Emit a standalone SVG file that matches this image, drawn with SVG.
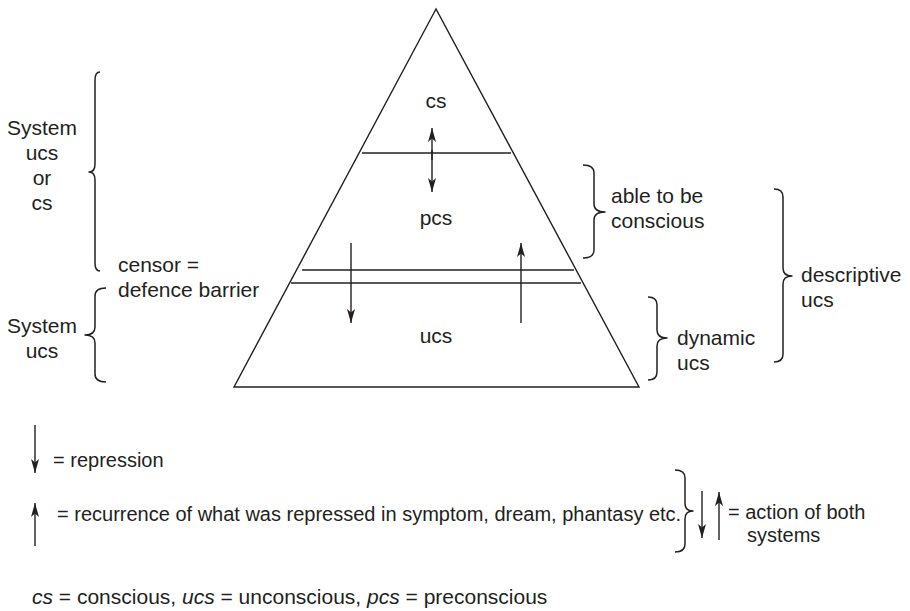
<svg xmlns="http://www.w3.org/2000/svg" width="910" height="611" viewBox="0 0 910 611">
  <defs>
    <style>
      .ln { stroke: #231f20; stroke-width: 1.4; fill: none; }
      .br { stroke: #231f20; stroke-width: 1.5; fill: none; stroke-linejoin: round; }
      .ar { stroke: #231f20; stroke-width: 1.4; fill: none; marker-end: url(#head); }
      .t { font-family: "Liberation Sans", Arial, Helvetica, sans-serif; font-size: 21px; fill: #231f20; }
      .s { font-size: 20px; }
      .c { text-anchor: middle; }
      .i { font-style: italic; }
    </style>
    <!-- slim filled arrowhead, tip at the line end -->
    <marker id="head" viewBox="-15 -5 16 10" refX="0" refY="0" markerWidth="16" markerHeight="10" markerUnits="userSpaceOnUse" orient="auto">
      <path d="M0,0 L-14,-4 L-10.5,0 L-14,4 Z" fill="#231f20"/>
    </marker>
  </defs>

  <rect width="910" height="611" fill="#ffffff"/>

  <!-- the pyramid with its strata -->
  <g id="pyramid">
    <polygon class="ln" points="436,9 234,387 639,387"/>
    <line class="ln" x1="362" y1="153" x2="511" y2="153"/>
    <line class="ln" x1="302" y1="270" x2="574" y2="270"/>
    <line class="ln" x1="291" y1="283" x2="581" y2="283"/>
  </g>

  <g id="cs"><text class="t c" x="436" y="108">cs</text></g>
  <g id="pcs"><text class="t c" x="436" y="225">pcs</text></g>
  <g id="ucs"><text class="t c" x="436" y="343">ucs</text></g>

  <!-- movements between the layers -->
  <g id="connectors">
    <line class="ar" x1="432" y1="160" x2="432" y2="128"/>
    <line class="ar" x1="432" y1="150" x2="432" y2="192"/>
    <line class="ar" x1="351" y1="243" x2="351" y2="323"/>
    <line class="ar" x1="521" y1="323" x2="521" y2="243"/>
  </g>

  <!-- left-hand brackets -->
  <g id="system-ucs-or-cs">
    <path class="br" d="M100 72 Q95 72 95 80 L95 164 Q95 172 89 172 Q95 172 95 180 L95 263 Q95 271 100 271"/>
    <text class="t c" x="42" y="135">System</text>
    <text class="t c" x="42" y="160">ucs</text>
    <text class="t c" x="42" y="185">or</text>
    <text class="t c" x="42" y="210">cs</text>
  </g>

  <g id="censor">
    <text class="t" x="118" y="272">censor =</text>
    <text class="t" x="118" y="297">defence barrier</text>
  </g>

  <g id="system-ucs">
    <path class="br" d="M106 288 Q95 288 95 296 L95 327 Q95 335 85 335 Q95 335 95 343 L95 374 Q95 382 106 382"/>
    <text class="t c" x="42" y="333">System</text>
    <text class="t c" x="42" y="358">ucs</text>
  </g>

  <!-- right-hand brackets -->
  <g id="able-to-be-conscious">
    <path class="br" d="M583 165 Q594 165 594 173 L594 204 Q594 212 605 212 Q594 212 594 220 L594 250 Q594 258 583 258"/>
    <text class="t" x="611" y="203">able to be</text>
    <text class="t" x="611" y="228">conscious</text>
  </g>

  <g id="descriptive-ucs">
    <path class="br" d="M774 189 Q783 189 783 197 L783 268 Q783 276 792 276 Q783 276 783 284 L783 354 Q783 362 774 362"/>
    <text class="t" x="801" y="282">descriptive</text>
    <text class="t" x="801" y="307">ucs</text>
  </g>

  <g id="dynamic-ucs">
    <path class="br" d="M648 297 Q657 297 657 305 L657 330 Q657 338 667 338 Q657 338 657 346 L657 372 Q657 380 648 380"/>
    <text class="t" x="677" y="345">dynamic</text>
    <text class="t" x="677" y="370">ucs</text>
  </g>

  <!-- key -->
  <g id="key-repression">
    <line class="ar" x1="35" y1="425" x2="35" y2="473"/>
    <text class="t s" x="53" y="467">= repression</text>
  </g>

  <g id="key-recurrence">
    <line class="ar" x1="35" y1="546" x2="35" y2="503"/>
    <text class="t s" x="57" y="521">= recurrence of what was repressed in symptom, dream, phantasy etc.</text>
  </g>

  <g id="key-both">
    <path class="br" d="M675 470 Q685 470 685 478 L685 503 Q685 511 693 511 Q685 511 685 519 L685 544 Q685 552 675 552"/>
    <line class="ar" x1="702" y1="491" x2="702" y2="538"/>
    <line class="ar" x1="719" y1="540" x2="719" y2="492"/>
    <text class="t s" x="728" y="519">= action of both</text>
    <text class="t s" x="747" y="542">systems</text>
  </g>

  <g id="abbreviations">
    <text class="t" x="32" y="604"><tspan class="i">cs</tspan> = conscious, <tspan class="i">ucs</tspan> = unconscious, <tspan class="i">pcs</tspan> = preconscious</text>
  </g>
</svg>
